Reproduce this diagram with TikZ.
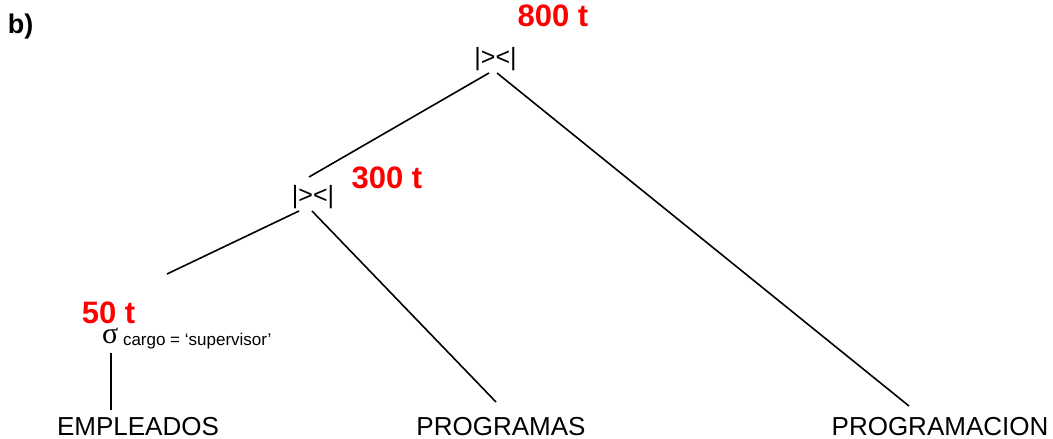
\documentclass[tikz,border=0pt]{standalone}
\usepackage{fontspec}
\setmainfont{Liberation Sans}
\newfontfamily\serifgr{Liberation Serif}
\begin{document}
\begin{tikzpicture}[x=1pt,y=-1pt,
  lbl/.style={inner sep=0pt, outer sep=0pt, anchor=base},
  cost/.style={lbl, text=red, font=\fontsize{31}{31}\selectfont\bfseries},
  rel/.style={lbl, font=\fontsize{26}{26}\selectfont},
  joinop/.style={lbl, font=\fontsize{25}{25}\selectfont},
  edge/.style={line width=1.6pt}]
\useasboundingbox (0,0) rectangle (1053,439);
\node[lbl, anchor=base west, font=\fontsize{27}{27}\selectfont\bfseries] (b) at (8,33) {b)};
\node[cost] (c800) at (553,27) {800 t};
\node[cost] (c300) at (387,188) {300 t};
\node[cost] (c50) at (108.5,323) {50 t};
\node[joinop] (j1) at (495.5,65) {|><|};
\node[joinop] (j2) at (313,203) {|><|};
\node[lbl, anchor=base west, font=\fontsize{30}{30}\selectfont\serifgr] (sig) at (102,343) {σ};
\node[lbl, anchor=base west, font=\fontsize{17}{17}\selectfont] (cond) at (123,345) {cargo = ‘supervisor’};
\node[rel] (emp) at (138,435) {EMPLEADOS};
\node[rel] (prg) at (501,435) {PROGRAMAS};
\node[rel] (prc) at (940,435) {PROGRAMACION};
\coordinate (j1l) at (489,73);
\coordinate (j1r) at (497,73);
\coordinate (j2t) at (309,177);
\coordinate (j2l) at (299,211);
\coordinate (j2r) at (312,211);
\coordinate (sigt) at (167,274);
\coordinate (sigb) at (111,353);
\coordinate (empt) at (111,410);
\coordinate (prgt) at (496,402);
\coordinate (prct) at (909,406);
\draw[edge] (j1l) -- (j2t);
\draw[edge] (j1r) -- (prct);
\draw[edge] (j2l) -- (sigt);
\draw[edge] (j2r) -- (prgt);
\draw[edge] (sigb) -- (empt);
\end{tikzpicture}
\end{document}
